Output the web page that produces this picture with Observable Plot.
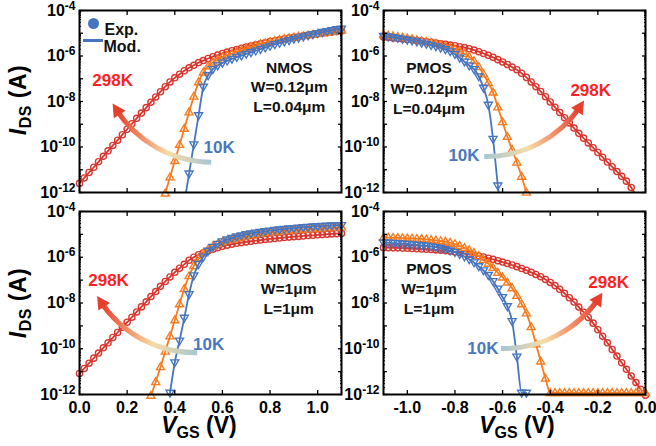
<!DOCTYPE html>
<html><head><meta charset="utf-8">
<script src="https://cdn.jsdelivr.net/npm/d3@7"></script>
<script src="https://cdn.jsdelivr.net/npm/@observablehq/plot@0.6"></script>
<style>
body{margin:0;background:#fff;}
#chart{position:relative;width:656px;height:446px;font-family:"Liberation Sans",Arial,sans-serif;}
#chart > svg{position:absolute;}
</style></head><body>
<svg width="0" height="0" style="position:absolute">
<defs>
<linearGradient id="gradL" x1="0" y1="0" x2="1" y2="0">
<stop offset="0%" stop-color="#e43c2c"/><stop offset="28%" stop-color="#f29068"/><stop offset="55%" stop-color="#f6dca6"/><stop offset="100%" stop-color="#a6c6d4"/>
</linearGradient>
<linearGradient id="gradR" x1="1" y1="0" x2="0" y2="0">
<stop offset="0%" stop-color="#e43c2c"/><stop offset="28%" stop-color="#f29068"/><stop offset="55%" stop-color="#f6dca6"/><stop offset="100%" stop-color="#a6c6d4"/>
</linearGradient>
</defs></svg>
<div id="chart"></div>
<script>
// ---------------- data (log10 of I_DS in A) ----------------
const nmosV = [0.00,0.02,0.04,0.06,0.08,0.10,0.12,0.14,0.16,0.18,
0.20,0.22,0.24,0.26,0.28,0.30,0.32,0.34,0.36,0.38,
0.40,0.42,0.44,0.46,0.48,0.50,0.52,0.54,0.56,0.58,
0.60,0.62,0.64,0.66,0.68,0.70,0.72,0.74,0.76,0.78,
0.80,0.82,0.84,0.86,0.88,0.90,0.92,0.94,0.96,0.98,
1.00,1.02,1.04,1.06,1.08,1.10];
const pmosV = [-1.10,-1.08,-1.06,-1.04,-1.02,-1.00,-0.98,-0.96,-0.94,-0.92,
-0.90,-0.88,-0.86,-0.84,-0.82,-0.80,-0.78,-0.76,-0.74,-0.72,
-0.70,-0.68,-0.66,-0.64,-0.62,-0.60,-0.58,-0.56,-0.54,-0.52,
-0.50,-0.48,-0.46,-0.44,-0.42,-0.40,-0.38,-0.36,-0.34,-0.32,
-0.30,-0.28,-0.26,-0.24,-0.22,-0.20,-0.18,-0.16,-0.14,-0.12,
-0.10,-0.08,-0.06,-0.04,-0.02,0.00];
const _ = null;
// NMOS W=0.12um L=0.04um
const nmosSmall298K = [-11.60,-11.36,-11.12,-10.89,-10.65,-10.41,-10.17,-9.93,-9.70,-9.46,
-9.22,-8.98,-8.74,-8.51,-8.27,-8.03,-7.80,-7.57,-7.35,-7.14,
-6.96,-6.80,-6.65,-6.52,-6.41,-6.29,-6.20,-6.11,-6.03,-5.96,
-5.89,-5.83,-5.77,-5.71,-5.66,-5.61,-5.56,-5.51,-5.46,-5.42,
-5.36,-5.33,-5.29,-5.25,-5.21,-5.18,-5.15,-5.11,-5.08,-5.05,
-5.02,-5.00,-4.97,-4.95,-4.92,-4.90];
const nmosSmallMid = [_,_,_,_,_,_,_,_,_,_,
_,_,_,_,_,_,_,-12.75,-12.04,-11.33,
-10.61,-9.90,-9.19,-8.47,-7.78,-7.15,-6.72,-6.45,-6.28,-6.16,
-6.05,-5.97,-5.90,-5.82,-5.75,-5.68,-5.61,-5.54,-5.48,-5.43,
-5.38,-5.33,-5.29,-5.25,-5.21,-5.18,-5.15,-5.12,-5.09,-5.06,
-5.03,-5.00,-4.97,-4.94,-4.91,-4.88];
const nmosSmall10K = [_,_,_,_,_,_,_,_,_,_,
_,_,_,_,_,_,_,_,_,_,
_,_,-12.45,-11.17,-9.89,-8.61,-7.35,-6.85,-6.58,-6.42,
-6.30,-6.21,-6.13,-6.05,-5.98,-5.91,-5.84,-5.77,-5.70,-5.63,
-5.56,-5.49,-5.43,-5.37,-5.31,-5.25,-5.20,-5.15,-5.10,-5.05,
-5.00,-4.95,-4.91,-4.87,-4.83,-4.80];
// PMOS W=0.12um L=0.04um
const pmosSmall298K = [-5.17,-5.19,-5.21,-5.23,-5.25,-5.27,-5.29,-5.32,-5.34,-5.37,
-5.40,-5.43,-5.46,-5.49,-5.52,-5.55,-5.59,-5.63,-5.68,-5.74,
-5.81,-5.89,-5.97,-6.06,-6.16,-6.26,-6.37,-6.49,-6.60,-6.76,
-6.94,-7.14,-7.35,-7.56,-7.79,-8.02,-8.25,-8.48,-8.71,-8.94,
-9.17,-9.40,-9.61,-9.82,-10.03,-10.24,-10.45,-10.66,-10.87,-11.08,
-11.29,-11.50,-11.78,-12.15,_,_];
const pmosSmallMid = [-5.07,-5.10,-5.13,-5.16,-5.19,-5.22,-5.26,-5.30,-5.34,-5.38,
-5.42,-5.47,-5.52,-5.58,-5.64,-5.71,-5.79,-5.90,-6.03,-6.22,
-6.48,-6.80,-7.18,-7.60,-8.25,-8.90,-9.55,-10.12,-10.68,-11.30,
-12.00,-12.60,_,_,_,_,_,_,_,_,
_,_,_,_,_,_,_,_,_,_,
_,_,_,_,_,_];
const pmosSmall10K = [-5.12,-5.15,-5.18,-5.21,-5.25,-5.29,-5.33,-5.37,-5.42,-5.47,
-5.52,-5.58,-5.64,-5.71,-5.80,-5.92,-6.08,-6.25,-6.42,-6.58,
-6.90,-7.40,-8.15,-9.65,-11.70,-13.50,_,_,_,_,
_,_,_,_,_,_,_,_,_,_,
_,_,_,_,_,_,_,_,_,_,
_,_,_,_,_,_];
// NMOS W=1um L=1um
const nmosLarge298K = [-11.08,-10.86,-10.63,-10.41,-10.19,-9.96,-9.74,-9.51,-9.29,-9.06,
-8.84,-8.62,-8.39,-8.17,-7.95,-7.72,-7.50,-7.27,-7.06,-6.86,
-6.66,-6.48,-6.31,-6.13,-6.00,-5.89,-5.80,-5.72,-5.65,-5.58,
-5.52,-5.47,-5.43,-5.39,-5.36,-5.33,-5.30,-5.27,-5.25,-5.22,
-5.20,-5.18,-5.16,-5.14,-5.12,-5.10,-5.09,-5.07,-5.05,-5.04,
-5.02,-5.01,-4.99,-4.98,-4.97,-4.96];
const nmosLargeMid = [_,_,_,_,_,_,_,_,_,_,
_,_,_,_,-12.65,-12.05,-11.45,-10.80,-10.12,-9.45,
-8.75,-8.05,-7.38,-6.82,-6.38,-6.05,-5.82,-5.65,-5.52,-5.42,
-5.34,-5.28,-5.22,-5.17,-5.12,-5.08,-5.04,-5.00,-4.97,-4.94,
-4.91,-4.89,-4.87,-4.85,-4.83,-4.81,-4.80,-4.78,-4.77,-4.76,
-4.74,-4.73,-4.72,-4.71,-4.70,-4.69];
const nmosLarge10K = [_,_,_,_,_,_,_,_,_,_,
_,_,_,_,_,_,_,_,_,-11.93,
-10.60,-9.65,-8.65,-7.62,-6.80,-6.30,-5.98,-5.72,-5.55,-5.42,
-5.31,-5.23,-5.16,-5.10,-5.05,-5.00,-4.96,-4.93,-4.90,-4.87,
-4.84,-4.81,-4.79,-4.77,-4.75,-4.73,-4.71,-4.69,-4.68,-4.66,
-4.65,-4.64,-4.63,-4.62,-4.61,-4.60];
// PMOS W=1um L=1um
const pmosLarge298K = [-5.58,-5.58,-5.59,-5.59,-5.60,-5.61,-5.62,-5.63,-5.64,-5.65,
-5.66,-5.68,-5.69,-5.71,-5.74,-5.77,-5.80,-5.84,-5.87,-5.91,
-5.95,-5.99,-6.04,-6.09,-6.15,-6.21,-6.27,-6.34,-6.41,-6.49,
-6.57,-6.66,-6.75,-6.85,-6.97,-7.10,-7.24,-7.40,-7.58,-7.77,
-7.96,-8.18,-8.40,-8.63,-8.88,-9.17,-9.45,-9.74,-10.03,-10.32,
-10.61,-10.90,-11.19,-11.48,-11.77,-12.03];
const pmosLargeMid = [-5.14,-5.14,-5.15,-5.15,-5.16,-5.17,-5.18,-5.19,-5.20,-5.22,
-5.24,-5.26,-5.29,-5.32,-5.36,-5.42,-5.50,-5.59,-5.69,-5.81,
-5.95,-6.11,-6.28,-6.46,-6.67,-6.88,-7.10,-7.35,-7.68,-8.05,
-8.45,-9.05,-9.80,-10.55,-11.30,-11.93,-11.93,-11.93,-11.93,-11.93,
-11.93,-11.93,-11.93,-11.93,-11.93,-11.93,-11.93,-11.93,-11.93,-11.93,
-11.93,-11.93,-11.93,-11.93,-11.93,-11.93];
const pmosLarge10K = [-5.36,-5.37,-5.38,-5.39,-5.41,-5.42,-5.44,-5.46,-5.48,-5.50,
-5.53,-5.56,-5.60,-5.65,-5.71,-5.78,-5.87,-5.97,-6.09,-6.23,
-6.40,-6.58,-6.78,-7.05,-7.38,-7.75,-8.15,-8.80,-10.35,-11.93,
-11.93,_,_,_,_,_,_,_,_,_,
_,_,_,_,_,_,_,_,_,_,
_,_,_,_,_,_];

// ticks
const yTickExps = [-12,-11,-10,-9,-8,-7,-6,-5,-4];
const yLabelExps = [-12,-10,-8,-6,-4];
const nmosXTicks = [0.0,0.2,0.4,0.6,0.8,1.0];
const pmosXTicks = [-1.0,-0.8,-0.6,-0.4,-0.2,0];

// annotations (data coordinates, log10 current)
const notesTL = [{x:0.881,y:-6.51,t:"NMOS"},{x:0.881,y:-7.38,t:"W=0.12μm"},{x:0.881,y:-8.26,t:"L=0.04μm"}];
const notesTR = [{x:-0.909,y:-6.55,t:"PMOS"},{x:-0.909,y:-7.43,t:"W=0.12μm"},{x:-0.909,y:-8.31,t:"L=0.04μm"}];
const notesBL = [{x:0.878,y:-6.51,t:"NMOS"},{x:0.878,y:-7.38,t:"W=1μm"},{x:0.878,y:-8.26,t:"L=1μm"}];
const notesBR = [{x:-0.909,y:-6.51,t:"PMOS"},{x:-0.909,y:-7.38,t:"W=1μm"},{x:-0.909,y:-8.26,t:"L=1μm"}];
const hotTL = [{x:0.139,y:-7.08,t:"298K"}], coldTL = [{x:0.586,y:-10.02,t:"10K"}];
const hotTR = [{x:-0.230,y:-7.52,t:"298K"}], coldTR = [{x:-0.762,y:-10.37,t:"10K"}];
const hotBL = [{x:0.122,y:-7.03,t:"298K"}], coldBL = [{x:0.542,y:-9.80,t:"10K"}];
const hotBR = [{x:-0.155,y:-7.12,t:"298K"}], coldBR = [{x:-0.683,y:-9.98,t:"10K"}];
const arrowTL = [{x1:0.553,y1:-10.67,x2:0.139,y2:-8.09}];
const arrowTR = [{x1:-0.677,y1:-10.42,x2:-0.258,y2:-7.96}];
const arrowBL = [{x1:0.494,y1:-10.18,x2:0.074,y2:-7.69}];
const arrowBR = [{x1:-0.607,y1:-9.99,x2:-0.181,y2:-7.55}];
const legendItems = ["Exp.","Mod."];

// ---------------- drawing ----------------
const ns = "http://www.w3.org/2000/svg";
const C = {r:"#d9362f", o:"#f97b1f", b:"#4675c0", hot:"#ff1f1f", cold:"#4a78bf", head:"#e4402c"};
const FONT = "'Liberation Sans', Arial, sans-serif";
const upTri = {draw(ctx,size){const s=Math.sqrt(size/Math.PI)*1.25;ctx.moveTo(0,-s);ctx.lineTo(s*0.95,s*0.62);ctx.lineTo(-s*0.95,s*0.62);ctx.closePath();}};
const downTri = {draw(ctx,size){const s=Math.sqrt(size/Math.PI)*1.25;ctx.moveTo(0,s);ctx.lineTo(s*0.95,-s*0.62);ctx.lineTo(-s*0.95,-s*0.62);ctx.closePath();}};
const dash = {draw(ctx){ctx.moveTo(-10,0);ctx.lineTo(10,0);}};
// filled arrowhead whose tip sits at the symbol origin, pointing along angle (degrees, screen coords)
const headSymbol = deg => ({draw(ctx){
  const a = deg * Math.PI / 180, ux = Math.cos(a), uy = Math.sin(a), L = 13, W = 7;
  ctx.moveTo(0, 0);
  ctx.lineTo(-ux * L - uy * W, -uy * L + ux * W);
  ctx.lineTo(-ux * L + uy * W, -uy * L - ux * W);
  ctx.closePath();
}});

const majorY = yTickExps.map(e => 10 ** e);
const labelY = yLabelExps.map(e => 10 ** e);
const minorY = [];
for (const e of yTickExps.slice(0, -1)) for (let m = 2; m <= 9; m++) minorY.push(m * 10 ** e);

const rowsOf = (vs, ys) => vs.map((v, i) => ({v, y: ys[i]})).filter(d => d.y != null);
const Y = d => 10 ** d.y;

function panel(cfg) {
  const series = [
    {ys: cfg.r, color: C.r, symbol: "circle", r: 3.1},
    {ys: cfg.o, color: C.o, symbol: upTri, r: 3.4},
    {ys: cfg.b, color: C.b, symbol: downTri, r: 3.4}
  ];
  const marks = [];
  for (const s of series) {
    const rows = rowsOf(cfg.vs, s.ys);
    marks.push(Plot.dot(rows.filter(d => d.y >= -12.1), {x: "v", y: Y, symbol: s.symbol, r: s.r, stroke: s.color, strokeWidth: 1.35, fill: "none"}));
    marks.push(Plot.line(rows, {x: "v", y: Y, stroke: s.color, strokeWidth: 1.8, curve: "monotone-x", clip: true}));
  }
  marks.push(Plot.arrow(cfg.arrow, {x1: "x1", y1: d => 10 ** d.y1, x2: "x2", y2: d => 10 ** d.y2, bend: cfg.bend, headLength: 0, insetEnd: 6, stroke: `url(#${cfg.grad})`, strokeWidth: 5, strokeLinecap: "butt"}));
  marks.push(Plot.dot(cfg.arrow, {x: "x2", y: d => 10 ** d.y2, symbol: headSymbol(cfg.headDeg), fill: C.head, stroke: "none"}));
  marks.push(Plot.text(cfg.notes, {x: "x", y: Y, text: "t", fontSize: 15.5, fontWeight: "bold", fill: "#111"}));
  marks.push(Plot.text(cfg.hot, {x: "x", y: Y, text: "t", fontSize: 17, fontWeight: "bold", fill: C.hot}));
  marks.push(Plot.text(cfg.cold, {x: "x", y: Y, text: "t", fontSize: 17, fontWeight: "bold", fill: C.cold}));
  if (cfg.legend) {
    marks.push(Plot.dot([legendItems[0]], {frameAnchor: "top-left", dx: 14, dy: 13, r: 5.5, fill: C.b, stroke: "none"}));
    marks.push(Plot.dot([legendItems[1]], {frameAnchor: "top-left", dx: 13.5, dy: 30, symbol: dash, stroke: C.b, strokeWidth: 3}));
    marks.push(Plot.text([legendItems[0]], {frameAnchor: "top-left", dx: 25, dy: 13, text: d => d, textAnchor: "start", fontSize: 16, fontWeight: "bold", fill: "#111"}));
    marks.push(Plot.text([legendItems[1]], {frameAnchor: "top-left", dx: 24, dy: 30, text: d => d, textAnchor: "start", fontSize: 16, fontWeight: "bold", fill: "#111"}));
  }
  // axes: inward ticks on all sides
  const tk = {fill: null, label: null, stroke: "#000"};
  marks.push(Plot.axisY({...tk, anchor: "left", ticks: majorY, tickSize: 4, dx: 4, strokeWidth: 1.3}));
  marks.push(Plot.axisY({...tk, anchor: "left", ticks: minorY, tickSize: 2, dx: 2, strokeWidth: 1}));
  marks.push(Plot.axisY({...tk, anchor: "right", ticks: majorY, tickSize: 4, dx: -4, strokeWidth: 1.3}));
  marks.push(Plot.axisY({...tk, anchor: "right", ticks: minorY, tickSize: 2, dx: -2, strokeWidth: 1}));
  marks.push(Plot.axisX({...tk, anchor: "bottom", ticks: cfg.xTicks, tickSize: 4, dy: -4, strokeWidth: 1.3}));
  marks.push(Plot.axisX({...tk, anchor: "top", ticks: cfg.xTicks, tickSize: 4, dy: 4, strokeWidth: 1.3}));
  marks.push(Plot.axisY({anchor: "left", ticks: labelY, tickSize: 0, tickPadding: 4, label: null,
    tickFormat: d => "10^" + Math.round(Math.log10(d)), fontSize: 16, fontWeight: "bold", fill: "#000"}));
  if (cfg.xLabels) {
    marks.push(Plot.axisX({anchor: "bottom", ticks: cfg.xTicks, tickSize: 0, tickPadding: 7, label: null,
      tickFormat: d => d.toFixed(1), fontSize: 16, fontWeight: "bold", fill: "#000"}));
  }
  marks.push(Plot.frame({stroke: "#000", strokeWidth: 2}));

  const svg = Plot.plot({
    width: cfg.w, height: cfg.h,
    marginLeft: cfg.mL, marginRight: cfg.mR, marginTop: cfg.mT, marginBottom: cfg.mB,
    x: {domain: cfg.xDomain},
    y: {type: "log", domain: [1e-12, 1e-4]},
    style: {background: "transparent", overflow: "visible", fontFamily: FONT, fontWeight: "bold"},
    marks
  });
  svg.style.left = cfg.left + "px";
  svg.style.top = cfg.top + "px";
  svg.querySelectorAll("text").forEach(t => {
    const m = /^10\^(-?\d+)$/.exec(t.textContent);
    if (!m) return;
    t.textContent = "10";
    const s = document.createElementNS(ns, "tspan");
    s.setAttribute("dy", "-0.5em");
    s.setAttribute("font-size", "12");
    s.textContent = m[1];
    t.appendChild(s);
  });
  return svg;
}

const chart = document.getElementById("chart");
const rowTop = {h: 200, mT: 10, mB: 8, top: 0};
const rowBot = {h: 246, mT: 11, mB: 52, top: 200};
const colLeft = {w: 346, mL: 79, mR: 5, left: 0, vs: nmosV, xDomain: [0, 1.1], xTicks: nmosXTicks, grad: "gradL", bend: 30, headDeg: 237};
const colRight = {w: 328, mL: 55, mR: 11, left: 328, vs: pmosV, xDomain: [-1.1, 0], xTicks: pmosXTicks, grad: "gradR", bend: -30, headDeg: -57};

chart.appendChild(panel({...colLeft, ...rowTop, r: nmosSmall298K, o: nmosSmallMid, b: nmosSmall10K, notes: notesTL, hot: hotTL, cold: coldTL, arrow: arrowTL, legend: true, xLabels: false}));
chart.appendChild(panel({...colRight, ...rowTop, r: pmosSmall298K, o: pmosSmallMid, b: pmosSmall10K, notes: notesTR, hot: hotTR, cold: coldTR, arrow: arrowTR, legend: false, xLabels: false}));
chart.appendChild(panel({...colLeft, ...rowBot, r: nmosLarge298K, o: nmosLargeMid, b: nmosLarge10K, notes: notesBL, hot: hotBL, cold: coldBL, arrow: arrowBL, legend: false, xLabels: true}));
chart.appendChild(panel({...colRight, ...rowBot, r: pmosLarge298K, o: pmosLargeMid, b: pmosLarge10K, notes: notesBR, hot: hotBR, cold: coldBR, arrow: arrowBR, legend: false, xLabels: true}));

// axis titles
const titles = document.createElementNS(ns, "svg");
titles.setAttribute("width", 656); titles.setAttribute("height", 446);
titles.style.left = "0px"; titles.style.top = "0px"; titles.style.pointerEvents = "none";
titles.innerHTML = `
<g font-family="${FONT.replace(/'/g, "")}" font-weight="bold" font-size="23" fill="#000" text-anchor="middle">
<text transform="translate(26,100) rotate(-90)" letter-spacing="0.5"><tspan font-style="italic">I</tspan><tspan font-size="16" dy="5">DS</tspan><tspan dy="-5"> (A)</tspan></text>
<text transform="translate(26,303) rotate(-90)" letter-spacing="0.5"><tspan font-style="italic">I</tspan><tspan font-size="16" dy="5">DS</tspan><tspan dy="-5"> (A)</tspan></text>
<text x="199" y="433"><tspan font-style="italic">V</tspan><tspan font-size="16" dy="5">GS</tspan><tspan dy="-5"> (V)</tspan></text>
<text x="517" y="433"><tspan font-style="italic">V</tspan><tspan font-size="16" dy="5">GS</tspan><tspan dy="-5"> (V)</tspan></text>
</g>`;
chart.appendChild(titles);
</script>
</body></html>
